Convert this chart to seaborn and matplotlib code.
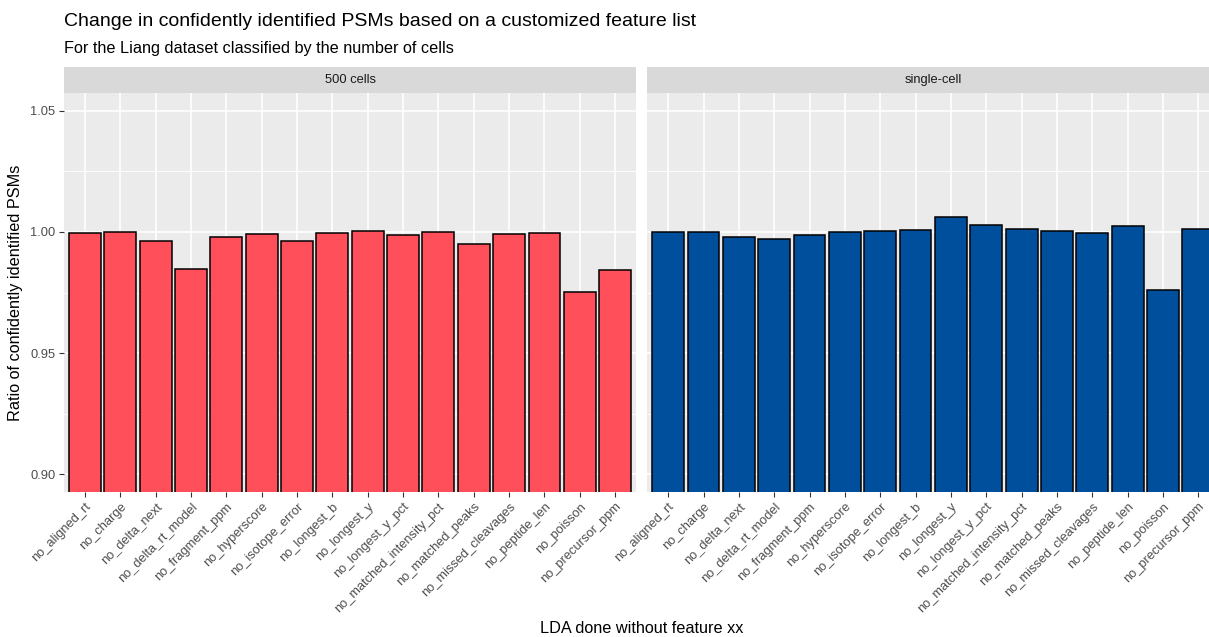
import numpy as np
import pandas as pd
import matplotlib
matplotlib.use("Agg")
import matplotlib.pyplot as plt
import seaborn as sns

# Features left out of the LDA model
features = [
    "no_aligned_rt", "no_charge", "no_delta_next", "no_delta_rt_model",
    "no_fragment_ppm", "no_hyperscore", "no_isotope_error", "no_longest_b",
    "no_longest_y", "no_longest_y_pct", "no_matched_intensity_pct",
    "no_matched_peaks", "no_missed_cleavages", "no_peptide_len",
    "no_poisson", "no_precursor_ppm",
]

# Ratio of confidently identified PSMs relative to the full feature set
ratio_500_cells = [
    0.9994, 1.0000, 0.9961, 0.9849, 0.9979, 0.9993, 0.9961, 0.9997,
    1.0004, 0.9986, 0.9999, 0.9952, 0.9993, 0.9996, 0.9753, 0.9842,
]
ratio_single_cell = [
    1.0001, 1.0001, 0.9978, 0.9971, 0.9989, 1.0001, 1.0005, 1.0010,
    1.0061, 1.0030, 1.0011, 1.0003, 0.9996, 1.0026, 0.9759, 1.0012,
]

panels = ["500 cells", "single-cell"]
panel_colors = {"500 cells": "#FF4F5B", "single-cell": "#004F9D"}

y_ticks = [0.90, 0.95, 1.00, 1.05]
y_minor = [0.925, 0.975, 1.025]

df = pd.DataFrame({
    "feature": features * 2,
    "ratio": ratio_500_cells + ratio_single_cell,
    "cells": [panels[0]] * len(features) + [panels[1]] * len(features),
})

sns.set_theme(style="darkgrid")
plt.rcParams["font.family"] = ["Liberation Sans", "DejaVu Sans"]

W, H = 1209, 637
fig = plt.figure(figsize=(W / 100, H / 100), dpi=100)
fig.patch.set_facecolor("white")

panel_top, panel_bottom = 92.7, 492.3
strip_top = 66.7
panel_w = 572.5
panel_lefts = [63.8, 647.0]

TICK_SIZE = 9.3
AXIS_TITLE_SIZE = 11.7

def fx(px):
    return px / W

def fy(py):
    return 1 - py / H

for name, left in zip(panels, panel_lefts):
    ax = fig.add_axes([fx(left), fy(panel_bottom), fx(panel_w),
                       (panel_bottom - panel_top) / H])
    sub = df[df["cells"] == name]
    sns.barplot(data=sub, x="feature", y="ratio", order=features,
                color=panel_colors[name], saturation=1, width=0.9,
                edgecolor="black", linewidth=1.1, ax=ax, zorder=3)
    ax.set_facecolor("#EBEBEB")
    ax.set_xlim(-0.6, len(features) - 0.4)
    ax.set_ylim(0.8925, 1.0575)
    ax.set_yticks(y_ticks)
    ax.set_yticks(y_minor, minor=True)
    ax.grid(False)
    ax.grid(True, which="major", color="white", linewidth=1.2, zorder=0)
    ax.grid(True, which="minor", axis="y", color="white", linewidth=0.6, zorder=0)
    ax.set_axisbelow(True)
    for s in ax.spines.values():
        s.set_visible(False)
    ax.set_xlabel("")
    ax.set_ylabel("")
    ax.tick_params(axis="x", which="major", length=3.8, width=0.8, color="#333333",
                   labelsize=TICK_SIZE, labelcolor="#4D4D4D", pad=2.2, bottom=True)
    ax.set_xticks(range(len(features)))
    ax.set_xticklabels(features, rotation=45, ha="right", va="top",
                       rotation_mode="anchor")
    if name == panels[0]:
        ax.tick_params(axis="y", which="major", length=3.8, width=0.8,
                       color="#333333", labelsize=TICK_SIZE, labelcolor="#4D4D4D",
                       pad=2.2, left=True)
        ax.set_yticklabels([f"{v:.2f}" for v in y_ticks])
    else:
        ax.tick_params(axis="y", which="both", left=False, labelleft=False)
    ax.tick_params(axis="y", which="minor", left=False)

    # facet strip
    sax = fig.add_axes([fx(left), fy(panel_top), fx(panel_w),
                        (panel_top - strip_top) / H])
    sax.set_facecolor("#D9D9D9")
    sax.set_xticks([])
    sax.set_yticks([])
    for s in sax.spines.values():
        s.set_visible(False)
    sax.text(0.5, 0.5, name, ha="center", va="center", fontsize=TICK_SIZE,
             color="#1A1A1A", transform=sax.transAxes)

fig.text(fx(63.8), fy(26.5), "Change in confidently identified PSMs based on a customized feature list",
         fontsize=14.0, color="black", ha="left", va="baseline")
fig.text(fx(63.8), fy(53.0), "For the Liang dataset classified by the number of cells",
         fontsize=AXIS_TITLE_SIZE, color="black", ha="left", va="baseline")
fig.text(fx(16), fy((panel_top + panel_bottom) / 2), "Ratio of confidently identified PSMs",
         fontsize=AXIS_TITLE_SIZE, rotation=90, ha="center", va="center", color="black")
fig.text(fx(panel_lefts[0] + (panel_lefts[1] + panel_w - panel_lefts[0]) / 2), fy(633),
         "LDA done without feature xx", fontsize=AXIS_TITLE_SIZE, ha="center",
         va="baseline", color="black")

fig.savefig("out.png", dpi=100)
